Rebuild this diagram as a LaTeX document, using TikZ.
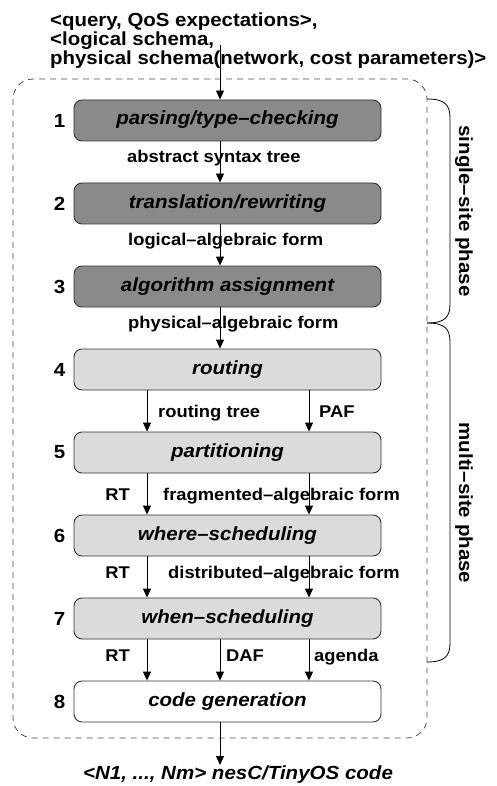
\documentclass[tikz,border=0pt]{standalone}
\usepackage{fontspec}
\setmainfont[FakeStretch=1.08]{Liberation Sans}
\usetikzlibrary{arrows.meta}
\tikzset{
  stage/.style={draw=black!80, line width=0.9pt, rounded corners=8pt,
    minimum width=307pt, minimum height=41pt, inner sep=0pt,
    text height=13pt, text depth=4pt,
    font=\fontsize{19}{22}\selectfont\bfseries\itshape},
  darkstage/.style={stage, fill=black!46},
  lightstage/.style={stage, fill=black!14},
  plainstage/.style={stage, fill=white},
  stagenum/.style={font=\fontsize{19}{22}\selectfont\bfseries, inner sep=0pt},
  flowlabel/.style={font=\fontsize{17}{20}\selectfont\bfseries, inner sep=0pt},
  phaselabel/.style={font=\fontsize{19}{22}\selectfont\bfseries, inner sep=0pt, rotate=-90},
  flow/.style={-{Triangle[length=9pt,width=8pt]}, line width=0.9pt},
  phasebox/.style={draw=black!70, dash pattern=on 6pt off 5pt, line width=0.8pt, rounded corners=20pt},
}
\begin{document}
\begin{tikzpicture}[x=1pt,y=-1pt]
  \useasboundingbox (0,0) rectangle (496,786);
  % optimizer outline
  \draw[phasebox] (13,79) rectangle (427,738);
  % input and output
  \node[anchor=north west, inner sep=0pt, align=left,
        font=\fontsize{18.9}{15.7}\selectfont\bfseries] (input) at (50,13)
    {<query, QoS expectations>,\\<logical schema,\\physical schema(network, cost parameters)>};
  \coordinate (feed) at (220,45);
  \node[anchor=base, inner sep=0pt, font=\fontsize{19}{22}\selectfont\bfseries\itshape]
    (output) at (238,779) {<N1, ..., Nm> nesC/TinyOS code};
  % arrow columns
  \coordinate (midx) at (220,0);
  \coordinate (leftx) at (147,0);
  \coordinate (rightx) at (309,0);
  % stages
  \node[darkstage] (parse) at (227.5,120.5) {parsing/type--checking};
  \node[darkstage] (rewrite) at (227.5,203.5) {translation/rewriting};
  \node[darkstage] (assign) at (227.5,286.5) {algorithm assignment};
  \node[lightstage] (route) at (227.5,369.5) {routing};
  \node[lightstage] (part) at (227.5,452.5) {partitioning};
  \node[lightstage] (where) at (227.5,535.5) {where--scheduling};
  \node[lightstage] (when) at (227.5,618.5) {when--scheduling};
  \node[plainstage] (codegen) at (227.5,701.5) {code generation};
  \node[stagenum] (n1) at (59.5,120.5) {1};
  \node[stagenum] (n2) at (59.5,203.5) {2};
  \node[stagenum] (n3) at (59.5,286.5) {3};
  \node[stagenum] (n4) at (59.5,369.5) {4};
  \node[stagenum] (n5) at (59.5,452.5) {5};
  \node[stagenum] (n6) at (59.5,535.5) {6};
  \node[stagenum] (n7) at (59.5,618.5) {7};
  \node[stagenum] (n8) at (59.5,701.5) {8};
  % intermediate forms
  \node[flowlabel, anchor=base west] (ast) at (127,163) {abstract syntax tree};
  \node[flowlabel, anchor=base west] (laf) at (128,245) {logical--algebraic form};
  \node[flowlabel, anchor=base west] (paf) at (128,328) {physical--algebraic form};
  \node[flowlabel, anchor=base west] (rtree) at (158,417) {routing tree};
  \node[flowlabel, anchor=base west] (pafb) at (319,417) {PAF};
  \node[flowlabel, anchor=base east] (rta) at (130,500) {RT};
  \node[flowlabel, anchor=base west] (faf) at (163,500) {fragmented--algebraic form};
  \node[flowlabel, anchor=base east] (rtb) at (130,578) {RT};
  \node[flowlabel, anchor=base west] (daf) at (168,578) {distributed--algebraic form};
  \node[flowlabel, anchor=base east] (rtc) at (130,661) {RT};
  \node[flowlabel, anchor=base west] (dafb) at (226,661) {DAF};
  \node[flowlabel, anchor=base west] (agenda) at (314,661) {agenda};
  \begin{scope}[flow]
    \draw (feed) -- (parse.north -| midx);
    \draw (parse.south -| midx) -- (rewrite.north -| midx);
    \draw (rewrite.south -| midx) -- (assign.north -| midx);
    \draw (assign.south -| midx) -- (route.north -| midx);
    \draw (route.south -| leftx) -- (part.north -| leftx);
    \draw (route.south -| rightx) -- (part.north -| rightx);
    \draw (part.south -| leftx) -- (where.north -| leftx);
    \draw (part.south -| rightx) -- (where.north -| rightx);
    \draw (where.south -| leftx) -- (when.north -| leftx);
    \draw (where.south -| rightx) -- (when.north -| rightx);
    \draw (when.south -| leftx) -- (codegen.north -| leftx);
    \draw (when.south -| midx) -- (codegen.north -| midx);
    \draw (when.south -| rightx) -- (codegen.north -| rightx);
    \draw (codegen.south -| midx) -- (output.north -| midx);
  \end{scope}
  % phase braces
  \draw[line width=0.8pt] (427,99) .. controls (445,99) and (450,105) .. (450,118)
    -- (450,304) .. controls (450,317) and (445,323) .. (427,323);
  \draw[line width=0.8pt] (427,323) .. controls (445,323) and (450,329) .. (450,342)
    -- (450,643) .. controls (450,656) and (445,662) .. (427,662);
  \node[phaselabel] (single) at (464,211) {single--site phase};
  \node[phaselabel] (multi) at (464,503) {multi--site phase};
\end{tikzpicture}
\end{document}
